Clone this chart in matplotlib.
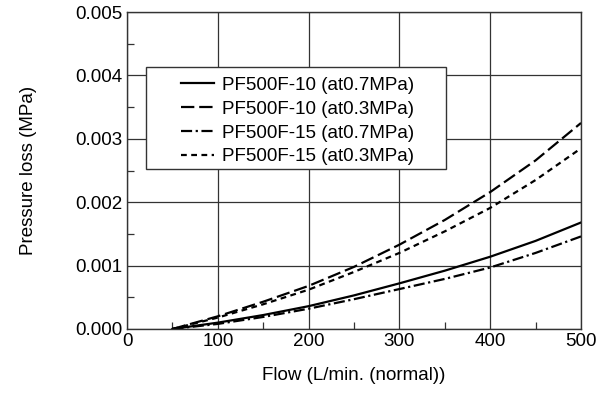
import matplotlib.pyplot as plt
from matplotlib.patches import Rectangle
from matplotlib.ticker import MultipleLocator

plt.rcParams['font.family'] = ['Liberation Sans', 'DejaVu Sans']

flow = [50, 100, 150, 200, 250, 300, 350, 400, 450, 500]
pf10_07 = [0, 0.00010, 0.00022, 0.00036, 0.00053, 0.00072, 0.00092, 0.00114, 0.00139, 0.00168]
pf10_03 = [0, 0.00020, 0.00043, 0.00068, 0.00098, 0.00133, 0.00172, 0.00216, 0.00266, 0.00325]
pf15_07 = [0, 0.00008, 0.00019, 0.00032, 0.00047, 0.00063, 0.00079, 0.00097, 0.00120, 0.00146]
pf15_03 = [0, 0.00018, 0.00039, 0.00062, 0.00090, 0.00120, 0.00154, 0.00191, 0.00235, 0.00285]
labels = ['PF500F-10 (at0.7MPa)', 'PF500F-10 (at0.3MPa)',
          'PF500F-15 (at0.7MPa)', 'PF500F-15 (at0.3MPa)']

fs = 13.5

fig = plt.figure(figsize=(5.98, 3.94), dpi=100)
ax = fig.add_axes([0.2124, 0.165, 0.7592, 0.8045])

ax.plot(flow, pf10_07, color='black', lw=1.6, linestyle='-', label=labels[0])
ax.plot(flow, pf10_03, color='black', lw=1.6, linestyle=(0, (6, 2.2)), label=labels[1])
ax.plot(flow, pf15_07, color='black', lw=1.6, linestyle=(0, (5, 1.6, 1, 1.6)), label=labels[2])
ax.plot(flow, pf15_03, color='black', lw=1.6, linestyle=(0, (2.6, 2)), label=labels[3])

ax.set_xlim(0, 500)
ax.set_ylim(0, 0.005)
ax.xaxis.set_major_locator(MultipleLocator(100))
ax.xaxis.set_minor_locator(MultipleLocator(50))
ax.yaxis.set_major_locator(MultipleLocator(0.001))
ax.yaxis.set_minor_locator(MultipleLocator(0.0005))
ax.yaxis.set_major_formatter(plt.FormatStrFormatter('%.3f'))
ax.grid(True, which='major', color='#333333', lw=0.9)
ax.tick_params(which='major', length=0, labelsize=fs, pad=3)
ax.tick_params(which='minor', direction='in', length=5, width=0.9, color='#333333')
for s in ax.spines.values():
    s.set_linewidth(1.0)
    s.set_color('#333333')

ax.set_xlabel('Flow (L/min. (normal))', fontsize=fs, labelpad=12)
ax.set_ylabel('Pressure loss (MPa)', fontsize=fs, labelpad=28)

# legend box (wider left margin than matplotlib's own frame)
box = Rectangle((0.042, 0.505), 0.661, 0.322, transform=ax.transAxes,
                facecolor='white', edgecolor='#333333', lw=1.0, zorder=4)
ax.add_patch(box)
leg = ax.legend(loc='upper left', bbox_to_anchor=(0.118, 0.796), fontsize=fs,
                frameon=False, handlelength=1.8, handletextpad=0.4,
                labelspacing=0.36, borderpad=0, borderaxespad=0)
leg.set_zorder(5)

fig.savefig('out.png', dpi=100)
